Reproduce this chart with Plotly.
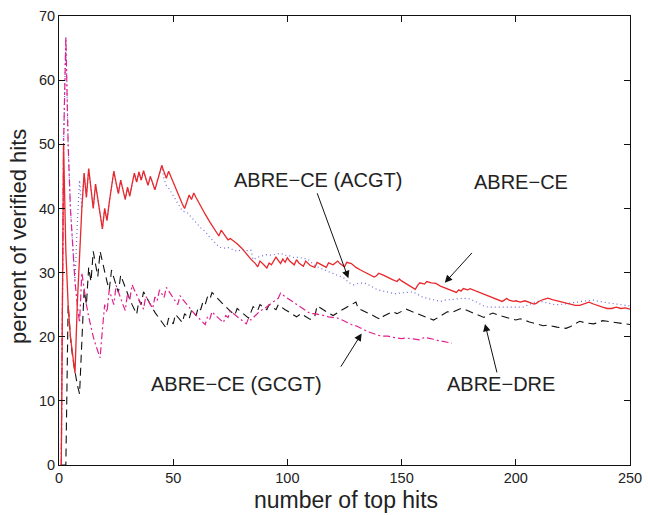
import plotly.graph_objects as go

# ABRE-CE (red solid)
ce_x = [1,2,3,4,5,6,7,8,9,10,11,12,13,14,15,16,17,18,19,20,21,22,23,24,25,26,27,28,29,30,
        31,32,33,34,35,36,37,38,39,40,41,42,43,44,45,46,47,48,49,50,52,54,55,56,57,58,59,60,
        62,64,66,68,70,71,72,73,74,75,78,80,82,84,86,87,88,89,90,91,92,93,95,96,97,98,99,100,
        101,103,104,105,107,108,110,112,113,115,117,118,120,122,123,125,126,128,130,132,134,136,
        138,139,140,142,144,146,148,149,150,152,154,156,157,158,160,161,163,165,167,169,171,173,
        174,175,176,177,179,180,182,184,186,188,190,192,194,195,196,197,199,200,202,204,206,208,
        209,210,212,214,216,218,220,222,224,226,228,230,232,234,236,238,240,242,244,246,248,250]
ce_y = [0,50,33.3,25,20,16.7,14.3,25,33.3,40,45.5,41.7,46.2,42.9,40,43.8,41.2,38.9,36.8,40,
        38.1,40.9,43.5,45.8,44,42.3,44.4,42.9,41.4,43.3,41.9,43.8,45.5,44.1,45.7,44.4,45.9,44.7,
        43.6,45,43.9,42.9,44.2,45.5,46.7,45.7,44.7,45.8,44.9,44,42.3,40.7,40,41.1,42.1,41.4,42.4,
        41.7,40.3,39.1,37.9,36.8,35.7,36.6,36.1,35.6,35.1,35.3,34.5,33.8,32.9,32.1,31.4,30.9,31.8,
        31.5,31.1,30.7,31.5,31.2,32.4,31.9,31.4,32.1,31.6,32.3,31.8,31.2,32,31.5,31.0,31.8,31.1,
        30.8,31.6,31.2,30.8,31.5,31.2,31.8,31.4,30.9,31.6,31.4,30.8,30.4,30.0,29.6,29.3,29.5,29.9,
        29.6,29.2,28.9,28.6,29.0,28.7,28.3,27.9,27.4,28.0,28.4,28.2,28.6,28.4,28.3,27.9,27.6,27.3,
        27.0,26.9,27.3,27.1,27.5,27.3,27.5,27.2,26.9,26.6,26.3,26.0,25.8,25.5,25.7,26.0,25.7,25.5,
        25.6,25.4,25.6,25.3,25.1,25.2,25.5,25.8,26.0,25.8,25.6,25.5,25.3,25.1,24.9,24.9,25.2,25.4,
        25.1,24.8,24.6,24.4,24.4,24.6,24.4,24.5,24.3]

# ABRE-CE (ACGT) (blue dotted)
acgt_x = [1,2,3,4,5,6,7,8,9,10,11,12,13,14,15,16,17,18,19,20,21,22,23,24,25,26,27,28,29,30,
          31,32,33,34,35,36,37,38,39,40,41,42,43,44,45,46,47,48,50,52,54,56,58,60,62,64,66,68,
          70,72,74,76,78,80,82,84,85,87,89,91,93,95,97,99,101,103,105,107,109,111,113,115,117,
          119,121,123,125,127,129,131,133,135,137,139,141,143,145,147,149,151,153,155,157,159,
          161,163,165,167,169,171,173,175,177,180,182,184,186,188,190,192,194,196,198,200,203,
          205,207,209,211,213,215,217,219,221,223,225,227,229,231,234,236,238,240,242,244,246,
          248,250]
acgt_y = [0,50,66.7,50,40,33.3,28.6,37.5,44.4,40,45.5,41.7,46.2,42.9,40,43.8,41.2,38.9,36.8,
          40,38.1,40.9,43.5,45.8,44,42.3,44.4,42.9,41.4,43.3,41.9,43.8,45.5,44.1,45.7,44.4,45.9,
          44.7,43.6,45,43.9,42.9,44.2,45.5,46.7,44.6,43.6,43.2,42.0,41.0,39.6,39.4,38.6,37.8,
          37.0,36.4,35.5,34.8,34.0,33.8,33.9,33.6,33.3,33.6,33.4,33.5,32.0,32.4,32.6,32.8,32.7,
          32.8,33.0,32.7,32.6,32.3,32.4,32.2,32.1,31.4,30.9,30.6,30.3,30.0,29.7,29.4,29.1,28.4,
          28.1,28.3,28.4,28.2,27.8,27.4,27.2,27.0,26.8,26.7,26.8,26.9,27.0,27.0,26.6,26.2,26.0,
          25.8,25.6,25.5,25.7,25.8,25.9,25.9,26.0,25.9,25.5,25.1,24.8,24.6,24.6,24.5,24.5,24.6,
          24.5,24.6,24.6,24.9,25.2,25.5,25.5,25.3,25.1,25.0,25.0,25.1,25.3,25.3,25.4,25.5,25.6,
          25.7,25.5,25.4,25.3,25.2,25.1,25.0,24.9,24.8]

# ABRE-DRE (black dashed)
dre_x = [1,2,3,4,5,6,7,8,9,10,11,12,13,14,15,16,17,18,19,20,21,22,23,24,25,26,27,28,29,30,
         31,32,33,34,35,36,37,38,39,40,41,42,43,44,45,46,47,48,49,50,51,52,53,54,55,56,57,58,
         59,60,61,62,63,64,65,66,67,68,69,70,71,72,73,74,75,76,77,78,79,80,81,82,83,84,85,86,
         87,88,89,90,91,92,93,94,95,96,97,98,99,100,102,104,106,108,110,112,113,114,116,118,
         120,122,124,126,128,130,131,133,135,137,139,141,142,144,146,148,150,152,154,156,158,
         160,162,164,166,168,170,172,174,176,178,180,182,184,186,188,190,192,194,196,198,200,
         202,204,206,208,210,212,214,216,218,220,222,224,226,228,230,232,234,236,238,240,242,
         244,246,248,250]
dre_y = [0,0,0,25,20,16.7,14.3,12.5,11.1,20,27.3,25,30.8,28.6,33.3,31.3,29.4,33.3,31.6,30,
         28.6,27.3,30.4,29.2,28,26.9,29.6,28.6,27.6,26.7,25.8,25,24.2,23.5,25.7,25,27,26.3,25.6,
         25,24.4,23.8,23.3,22.7,22.2,21.7,21.3,22.9,22.4,22,23.5,23.1,22.6,22.2,23.6,23.2,22.8,
         24.1,23.7,23.3,24.6,24.2,25.4,25,26.2,25.8,26.9,26.5,26.1,25.7,25.4,25,24.7,24.3,24,
         23.7,23.4,24.4,24.1,23.8,23.5,23.2,22.9,23.8,24.7,24.4,24.1,25,24.7,24.4,24.2,25,24.7,
         24.5,24.2,25,24.7,24.5,24.2,24,23.5,23.1,23.6,23.1,22.7,23.2,24.8,24.6,24.1,23.7,23.3,
         23.8,24.2,24.6,25.0,25.4,24.4,24.1,23.7,23.4,23.0,22.7,23.2,23.6,23.9,23.6,24.0,24.3,
         24.0,23.7,23.4,23.1,22.8,22.6,23.0,23.5,23.9,23.8,24.1,24.4,24.2,23.9,23.6,23.3,23.0,
         23.4,23.7,23.4,23.2,23.0,22.8,22.6,22.8,22.5,22.3,22.1,21.9,21.7,21.8,21.6,21.5,21.4,
         21.3,21.6,22.0,22.4,22.2,22.1,22.0,22.2,22.5,22.4,22.3,22.2,22.1,22.0,21.9]

# ABRE-CE (GCGT) (magenta dash-dot)
gcgt_x = [1,2,3,4,5,6,7,8,9,10,11,12,13,14,15,16,17,18,19,20,21,22,23,24,25,26,27,28,29,30,
          31,32,33,34,35,36,37,38,39,40,41,42,43,44,45,46,47,48,49,50,51,52,53,54,55,56,57,58,
          59,60,62,64,65,66,67,68,70,72,73,74,75,76,78,80,82,83,84,86,88,90,92,94,96,97,98,100,
          102,104,106,108,110,112,114,116,118,120,122,124,126,128,130,132,134,136,138,140,142,
          144,146,148,150,152,154,156,158,160,162,164,166,168,170,172]
gcgt_y = [0,50,66.7,50,40,33.3,28.6,25,22.2,30,27.3,25,23.1,21.4,20,18.8,17.6,16.7,21.1,25,
          23.8,27.3,26.1,25,28,26.9,25.9,25,24.1,26.7,25.8,28.1,27.3,26.5,25.7,25,24.3,26.3,25.6,
          25,24.4,26.2,25.6,27.3,26.7,26.1,27.7,27.1,26.5,26,25.5,25,26.4,25.9,25.5,25,24.6,24.1,
          23.7,23.3,22.6,21.9,23.1,22.7,23.9,23.5,22.9,22.2,23.3,23.0,24.0,23.7,23.1,22.5,22.0,
          22.9,22.6,23.3,24.0,24.4,25.0,25.5,26.0,26.8,26.5,26.0,25.5,25.0,24.5,24.1,23.6,23.6,
          23.5,23.3,23.1,23.0,22.9,22.6,22.2,21.9,21.7,21.3,21.0,20.7,20.4,20.2,20.1,20.1,19.9,
          19.8,19.7,19.8,19.7,19.6,19.5,19.9,19.8,19.6,19.4,19.3,19.1,19.0]

x_ticks = [0, 50, 100, 150, 200, 250]
y_ticks = [0, 10, 20, 30, 40, 50, 60, 70]

# label text, text position (x, y), arrow tail (x, y), arrow head (x, y)
labels = ["ABRE\u2212CE (ACGT)", "ABRE\u2212CE", "ABRE\u2212DRE", "ABRE\u2212CE (GCGT)"]
label_pos = [(113.2, 44.4), (202.3, 44.1), (193.3, 12.6), (77.7, 12.6)]
arrow_tail = [(112.8, 42.6), (181.4, 33.3), (191.9, 14.2), (123.0, 15.1)]
arrow_head = [(126.7, 29.1), (168.9, 28.4), (186.5, 22.0), (132.5, 20.5)]

x_title = "number of top hits"
y_title = "percent of verified hits"

FONT = "Liberation Sans, Arial, Helvetica, sans-serif"

fig = go.Figure()
fig.add_trace(go.Scatter(x=acgt_x, y=acgt_y, mode="lines",
                         line=dict(color="#6b6bdc", width=1.2, dash="1px,3px")))
fig.add_trace(go.Scatter(x=dre_x, y=dre_y, mode="lines",
                         line=dict(color="#111111", width=1.1, dash="8px,5px")))
fig.add_trace(go.Scatter(x=gcgt_x, y=gcgt_y, mode="lines",
                         line=dict(color="#e2208c", width=1.2, dash="7px,3px,2px,3px")))
fig.add_trace(go.Scatter(x=ce_x, y=ce_y, mode="lines",
                         line=dict(color="#e8282c", width=1.3)))

annotations = []
for txt, (tx, ty) in zip(labels, label_pos):
    annotations.append(dict(x=tx, y=ty, xref="x", yref="y", text=txt, showarrow=False,
                            font=dict(family=FONT, size=20, color="#222222")))
for (ax_, ay_), (hx, hy) in zip(arrow_tail, arrow_head):
    annotations.append(dict(x=hx, y=hy, xref="x", yref="y", ax=ax_, ay=ay_,
                            axref="x", ayref="y", text="", showarrow=True,
                            arrowhead=2, arrowsize=1.5, arrowwidth=1, arrowcolor="#111111"))
annotations.append(dict(x=0.5026, y=0, xref="paper", yref="paper", yshift=-35,
                        xanchor="center", yanchor="middle", text=x_title, showarrow=False,
                        font=dict(family=FONT, size=23, color="#222222")))
annotations.append(dict(x=0, y=0.508, xref="paper", yref="paper", xshift=-40,
                        xanchor="center", yanchor="middle", textangle=-90, text=y_title,
                        showarrow=False, font=dict(family=FONT, size=22, color="#222222")))

fig.update_layout(
    width=648, height=515,
    margin=dict(l=59, r=18, t=16, b=50),
    paper_bgcolor="white", plot_bgcolor="white",
    showlegend=False,
    font=dict(family=FONT, size=14.5, color="#222222"),
    annotations=annotations,
)
axis_common = dict(showgrid=False, zeroline=False, showline=True, linecolor="#111111",
                   linewidth=1, mirror="allticks", ticks="inside", ticklen=6,
                   tickcolor="#111111", tickwidth=1, automargin=False)
fig.update_xaxes(range=[0, 250], tickvals=x_ticks, ticktext=[str(v) for v in x_ticks],
                 **axis_common)
fig.update_yaxes(range=[0, 70], tickvals=y_ticks, ticktext=[str(v) for v in y_ticks],
                 **axis_common)

fig.write_html("out.html")
